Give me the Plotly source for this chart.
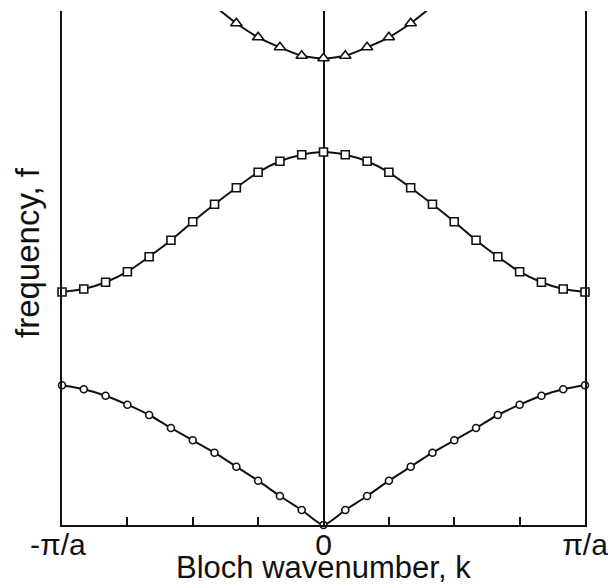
import plotly.graph_objects as go

# Bloch wavenumber in units of pi/a
k_half = [-12, -11, -10, -9, -8, -7, -6, -5, -4, -3, -2, -1, 0]
k = [v / 12 for v in k_half] + [v / 12 for v in [1, 2, 3, 4, 5, 6, 7, 8, 9, 10, 11, 12]]

# frequency values (arbitrary units), left half incl. k=0
band1_left = [1.397, 1.357, 1.293, 1.203, 1.10, 0.97, 0.847, 0.723, 0.583, 0.443, 0.29, 0.15, 0.0]
band2_left = [2.33, 2.36, 2.427, 2.533, 2.683, 2.847, 3.033, 3.207, 3.373, 3.527, 3.637, 3.703, 3.73]
band1 = band1_left + band1_left[-2::-1]
band2 = band2_left + band2_left[-2::-1]

k3_idx = [-5, -4, -3, -2, -1, 0, 1, 2, 3, 4, 5]
k3 = [v / 12 for v in k3_idx]
band3_left = [5.19, 5.017, 4.877, 4.777, 4.693, 4.667]
band3 = band3_left + band3_left[-2::-1]

y_top = 5.14

tick_vals = [-1, -0.75, -0.5, -0.25, 0, 0.25, 0.5, 0.75, 1]
tick_text = ["-π/a\u00a0", "", "", "", "0", "", "", "", "π/a"]

black = "#111111"
fig = go.Figure()
fig.add_trace(go.Scatter(
    x=k, y=band1, mode="lines+markers", line=dict(color=black, width=2, shape="spline", smoothing=0.6),
    marker=dict(symbol="circle", size=7, color="white", line=dict(color=black, width=1.6)),
    cliponaxis=False, showlegend=False))
fig.add_trace(go.Scatter(
    x=k, y=band2, mode="lines+markers", line=dict(color=black, width=2, shape="spline", smoothing=0.6),
    marker=dict(symbol="square", size=8, color="white", line=dict(color=black, width=1.6)),
    cliponaxis=False, showlegend=False))
fig.add_trace(go.Scatter(
    x=k3, y=band3, mode="lines+markers", line=dict(color=black, width=2, shape="spline", smoothing=0.6),
    marker=dict(symbol="triangle-up", size=10, color="white", line=dict(color=black, width=1.6)),
    cliponaxis=True, showlegend=False))

fig.add_annotation(
    text="Bloch wavenumber, k", xref="paper", yref="paper", x=0.5, y=-0.082,
    xanchor="center", yanchor="middle", showarrow=False, font=dict(size=31, color=black))
fig.add_annotation(
    text="frequency, f", xref="paper", yref="paper", x=-0.067, y=0.531, textangle=-90,
    xanchor="center", yanchor="middle", showarrow=False, font=dict(size=33, color=black))

fig.update_layout(
    width=608, height=586,
    margin=dict(l=62, r=23, t=11, b=61),
    paper_bgcolor="white", plot_bgcolor="white",
    font=dict(family="Liberation Sans, Arial, sans-serif", color=black, size=31),
    xaxis=dict(
        range=[-1, 1], tickvals=tick_vals, ticktext=tick_text,
        ticks="inside", ticklen=8, tickwidth=1.5, tickcolor=black,
        showline=True, linecolor=black, linewidth=2, mirror=False,
        showgrid=False, zeroline=True, zerolinecolor=black, zerolinewidth=2,
        tickfont=dict(size=30), ticklabelstandoff=-8, automargin=False,
        ticklabeloverflow="allow",
    ),
    yaxis=dict(
        range=[0, y_top], showticklabels=False, ticks="",
        showline=True, linecolor=black, linewidth=2, mirror=True,
        showgrid=False, zeroline=False, automargin=False,
    ),
)

fig.write_html("out.html")
